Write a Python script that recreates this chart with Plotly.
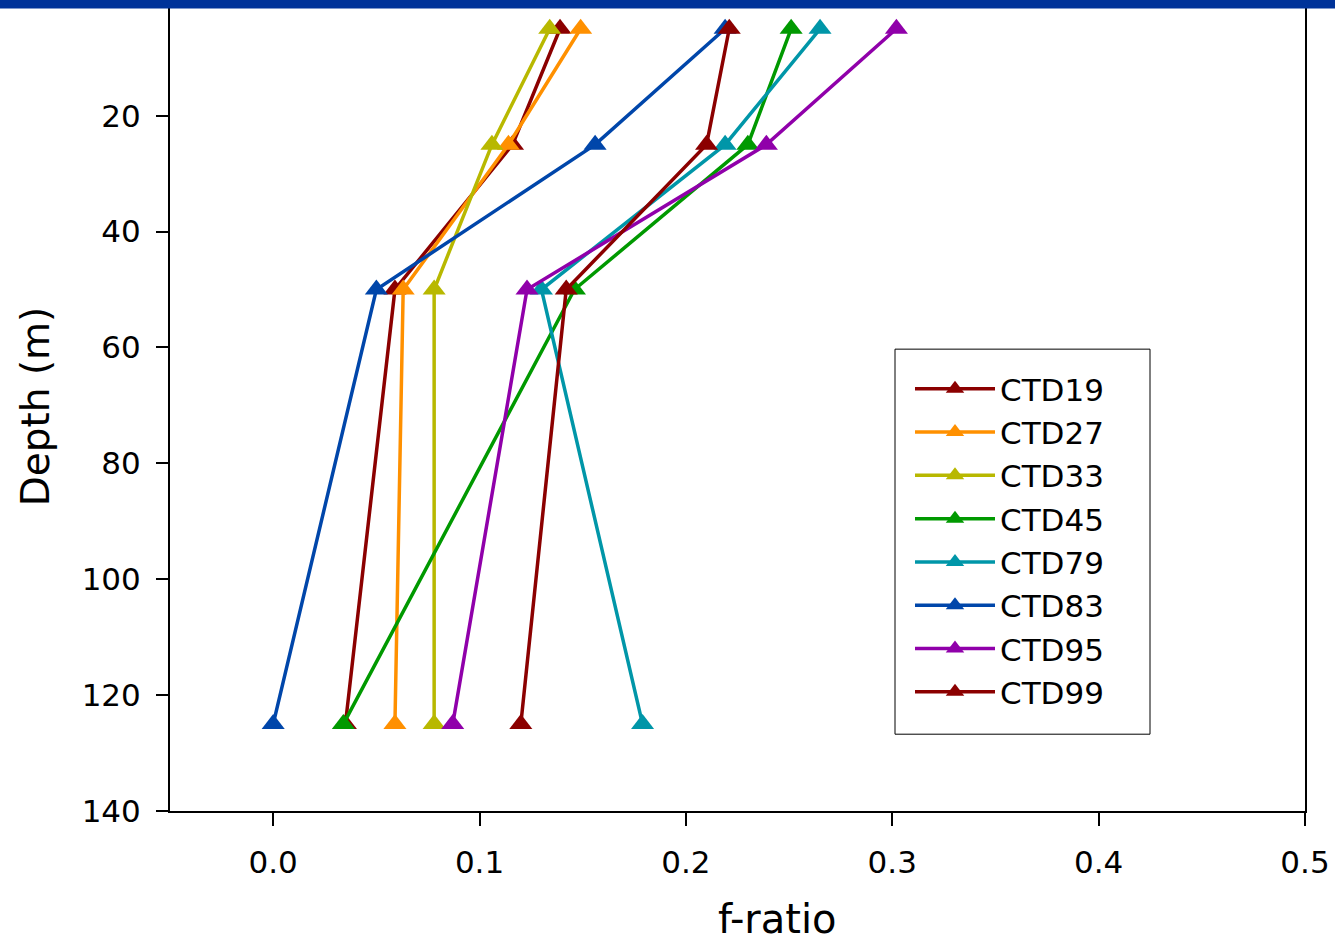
import plotly.graph_objects as go

depths = [5, 25, 50, 125]

series_names = ["CTD19", "CTD27", "CTD33", "CTD45", "CTD79", "CTD83", "CTD95", "CTD99"]
ctd19 = [0.139, 0.116, 0.059, 0.035]
ctd27 = [0.149, 0.114, 0.063, 0.059]
ctd33 = [0.134, 0.106, 0.078, 0.078]
ctd45 = [0.251, 0.230, 0.146, 0.034]
ctd79 = [0.265, 0.219, 0.130, 0.179]
ctd83 = [0.219, 0.156, 0.050, 0.000]
ctd95 = [0.302, 0.239, 0.123, 0.087]
ctd99 = [0.221, 0.210, 0.142, 0.120]
series_values = [ctd19, ctd27, ctd33, ctd45, ctd79, ctd83, ctd95, ctd99]
colors = ["#8B0000", "#FF9000", "#B8B800", "#009900", "#0096A8", "#0046AA", "#9000AA", "#8B0000"]

x_ticks = [0.0, 0.1, 0.2, 0.3, 0.4, 0.5]
y_ticks = [0, 20, 40, 60, 80, 100, 120, 140]

FONT = "DejaVu Sans"
W, H = 1335, 945
L, R, T, B = 170, 30, 0, 134
PW, PH = W - L - R, H - T - B


def px_x(p):
    return (p - L) / PW


def px_y(p):
    return 1 - (p - T) / PH


fig = go.Figure()
for name, vals, col in zip(series_names, series_values, colors):
    fig.add_trace(go.Scatter(
        x=vals, y=depths, name=name, mode="lines+markers",
        legendgroup=name,
        line=dict(color=col, width=3.5),
        marker=dict(symbol="triangle-up", size=20, color=col),
    ))

fig.update_layout(
    width=W, height=H,
    margin=dict(l=L, r=R, t=T, b=B),
    paper_bgcolor="white", plot_bgcolor="white",
    font=dict(family=FONT, size=31, color="black"),
    showlegend=True,
    legend=dict(
        x=px_x(910), y=px_y(361), xanchor="left", yanchor="top",
        borderwidth=0, bgcolor="rgba(0,0,0,0)",
        font=dict(family=FONT, size=31, color="black"),
        itemwidth=80, tracegroupgap=0, traceorder="grouped",
    ),
    xaxis=dict(
        range=[-0.05, 0.5], tickvals=x_ticks, tickformat=".1f",
        showgrid=False, zeroline=False,
        showline=True, linecolor="black", linewidth=2, mirror=True,
        ticks="outside", ticklen=13, tickwidth=2, tickcolor="black",
        ticklabelstandoff=10,
    ),
    yaxis=dict(
        range=[140, 0.38], tickvals=y_ticks,
        showgrid=False, zeroline=False,
        showline=True, linecolor="black", linewidth=2, mirror=True,
        ticks="outside", ticklen=12, tickwidth=2, tickcolor="black",
        ticklabelstandoff=9,
        title=dict(text="Depth (m)", font=dict(family=FONT, size=39), standoff=20),
    ),
    annotations=[dict(text="f-ratio", xref="paper", yref="paper",
                      x=px_x(777), y=px_y(944), xanchor="center", yanchor="bottom",
                      showarrow=False, font=dict(family=FONT, size=40, color="black"))],
    shapes=[
        dict(type="rect", xref="paper", yref="paper",
             x0=px_x(895), x1=px_x(1150), y0=px_y(734), y1=px_y(348),
             fillcolor="rgba(0,0,0,0)", line=dict(color="black", width=1), layer="above"),
        dict(type="rect", xref="paper", yref="paper",
             x0=-0.2, x1=1.1, y0=px_y(6.5), y1=1.02,
             fillcolor="#003399", line=dict(width=0), layer="above"),
    ],
)

fig.write_html("out.html")
